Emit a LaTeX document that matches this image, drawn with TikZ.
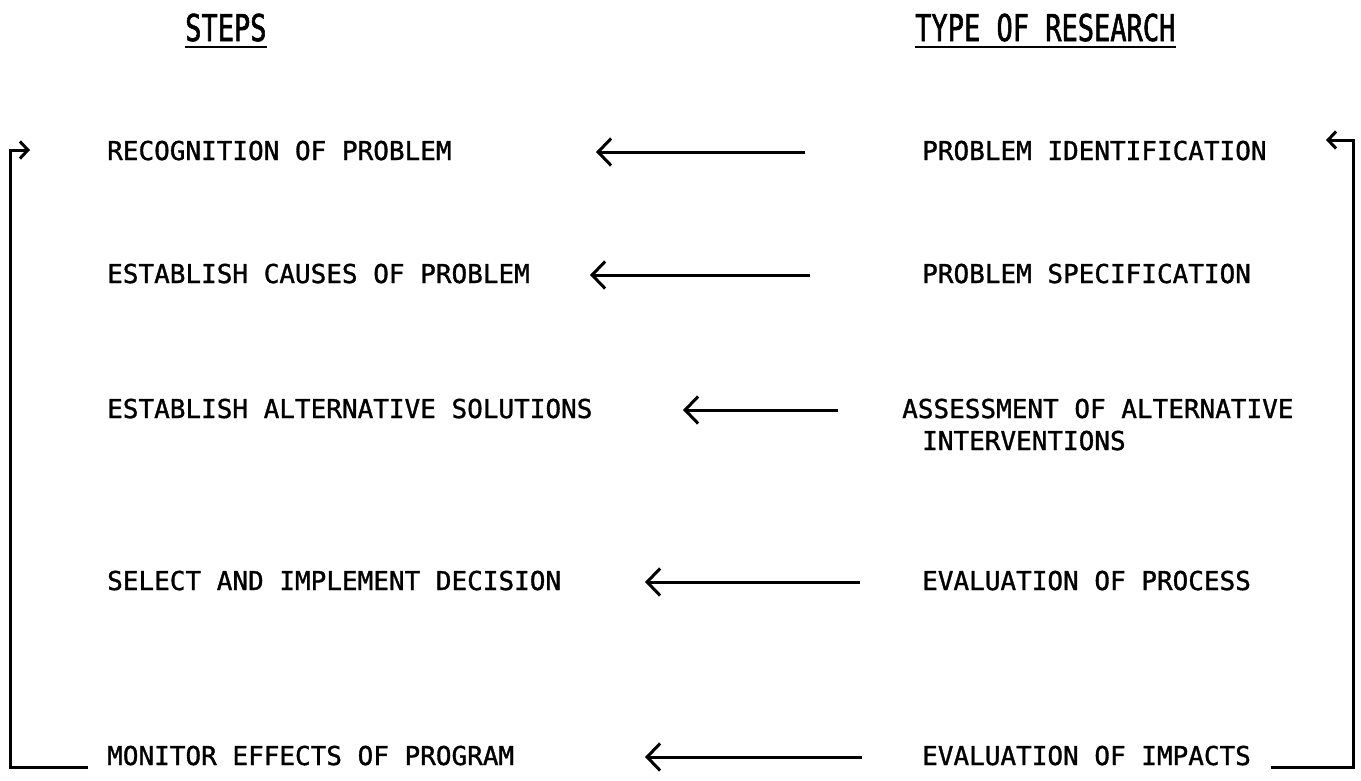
\documentclass[tikz,border=0pt]{standalone}
\usepackage{fontspec}
\newfontfamily\typefont[FakeStretch=1.0, FakeBold=1.2]{DejaVu Sans Mono}
\newfontfamily\headfont[FakeStretch=0.73, FakeBold=1.5]{DejaVu Sans Mono}
\usetikzlibrary{arrows.meta}

\begin{document}
\begin{tikzpicture}
  [x=1pt, y=-1pt,
   every node/.style = {anchor=base west, inner sep=0pt,
     font=\typefont\fontsize{26}{30}\selectfont},
   heading/.style = {font=\headfont\fontsize{37}{40}\selectfont},
   pointer/.style = {line width=3pt, -{Straight Barb[length=13pt, width=27pt]}},
   feedback/.style = {line width=3pt, -{Straight Barb[length=8pt, width=17pt]}}]
  \useasboundingbox (0,0) rectangle (1361,780);

  % column heads
  \node[heading] (steps) at (185,41) {STEPS};
  \node[heading] (type) at (915,41) {TYPE OF RESEARCH};
  \draw[line width=2.5pt] ([yshift=-6pt]steps.base west) -- ([yshift=-6pt]steps.base east);
  \draw[line width=2.5pt] ([yshift=-6pt]type.base west) -- ([yshift=-6pt]type.base east);

  % steps
  \node (s1) at (107,160) {RECOGNITION OF PROBLEM};
  \node (s2) at (107,283) {ESTABLISH CAUSES OF PROBLEM};
  \node (s3) at (107,418) {ESTABLISH ALTERNATIVE SOLUTIONS};
  \node (s4) at (107,590) {SELECT AND IMPLEMENT DECISION};
  \node (s5) at (107,765) {MONITOR EFFECTS OF PROGRAM};

  % research
  \node (r1) at (922,160) {PROBLEM IDENTIFICATION};
  \node (r2) at (922,283) {PROBLEM SPECIFICATION};
  \node (r3) at (902,418) {ASSESSMENT OF ALTERNATIVE};
  \node (r3b) at (922,450) {INTERVENTIONS};
  \node (r4) at (922,590) {EVALUATION OF PROCESS};
  \node (r5) at (922,765) {EVALUATION OF IMPACTS};

  \coordinate (a1) at (805,152); \coordinate (b1) at (596,152);
  \coordinate (a2) at (810,275); \coordinate (b2) at (590,275);
  \coordinate (a3) at (838,410); \coordinate (b3) at (683,410);
  \coordinate (a4) at (860,582); \coordinate (b4) at (645,582);
  \coordinate (a5) at (862,757); \coordinate (b5) at (645,757);
  \draw[pointer] (a1) -- (b1);
  \draw[pointer] (a2) -- (b2);
  \draw[pointer] (a3) -- (b3);
  \draw[pointer] (a4) -- (b4);
  \draw[pointer] (a5) -- (b5);

  % loop back to the top
  \coordinate (lb) at (88,767); \coordinate (lt) at (10,150); \coordinate (lh) at (30,150);
  \coordinate (rb) at (1271,767); \coordinate (rt) at (1353,140); \coordinate (rh) at (1326,140);
  \draw[feedback] (lb) -| (lt) -- (lh);
  \draw[feedback] (rb) -| (rt) -- (rh);
\end{tikzpicture}
\end{document}
